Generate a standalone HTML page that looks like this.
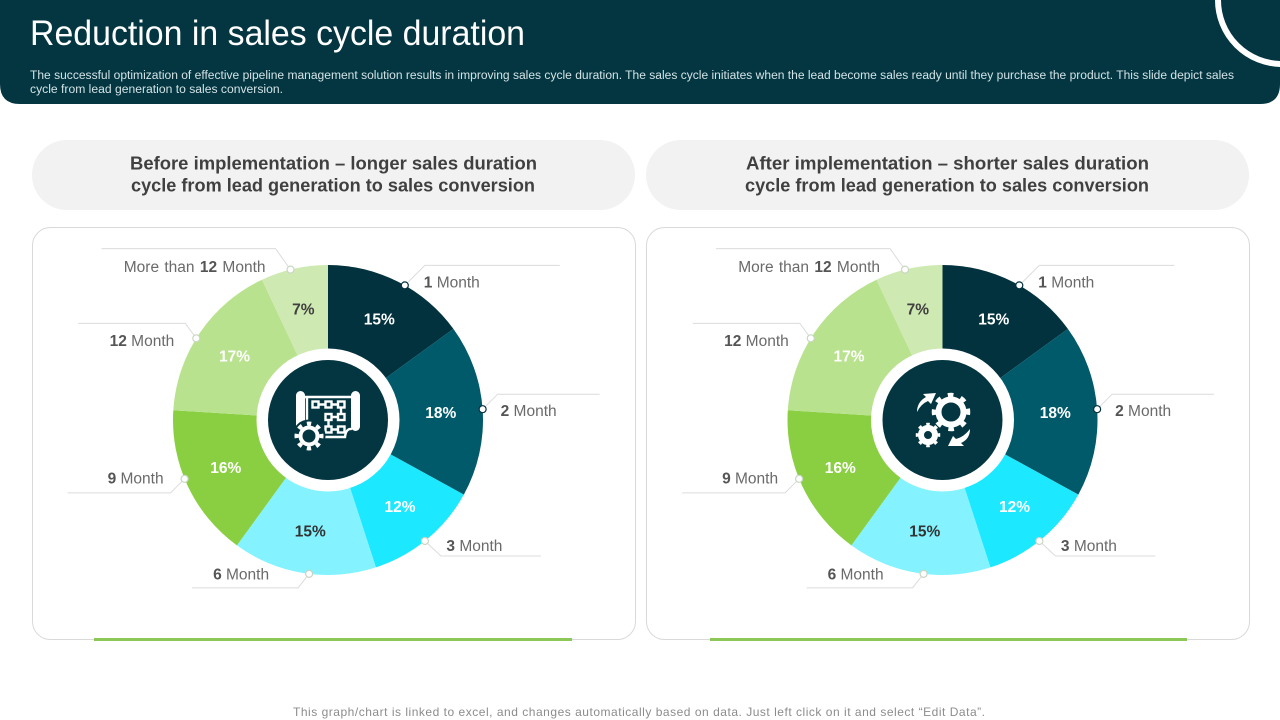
<!DOCTYPE html>
<html lang="en">
<head>
<meta charset="utf-8">
<title>Reduction in sales cycle duration</title>
<style>
html,body{margin:0;padding:0;background:#fff;width:1280px;height:720px;overflow:hidden}
svg{display:block;font-family:"Liberation Sans",sans-serif}
</style>
</head>
<body>
<svg id="slide" width="1280" height="720" viewBox="0 0 1280 720" xmlns="http://www.w3.org/2000/svg">
  <rect width="1280" height="720" fill="#ffffff"/>

  <g>
    <path d="M0 0H1280V84Q1280 104 1260 104H20Q0 104 0 84Z" fill="#033641"/>
    <circle cx="1282" cy="0" r="64" fill="none" stroke="#ffffff" stroke-width="6"/>
    <text x="30" y="45" font-size="35" fill="#ffffff" textLength="495" lengthAdjust="spacingAndGlyphs">Reduction in sales cycle duration</text>
    <text x="30" y="79" font-size="11.5" fill="#d3e3e6" textLength="1204" lengthAdjust="spacingAndGlyphs">The successful optimization of effective pipeline management solution results in improving sales cycle duration. The sales cycle initiates when the lead become sales ready until they purchase the product. This slide depict sales</text>
    <text x="30" y="93" font-size="11.5" fill="#d3e3e6" textLength="253" lengthAdjust="spacingAndGlyphs">cycle from lead generation to sales conversion.</text>
  </g>

  <g>
    <rect x="32" y="140" width="603" height="70" rx="35" fill="#f2f2f2"/>
    <text x="130" y="169.500" font-size="18" font-weight="700" fill="#404040" textLength="407" lengthAdjust="spacingAndGlyphs">Before implementation – longer sales duration</text>
    <text x="131" y="191.500" font-size="18" font-weight="700" fill="#404040" textLength="404" lengthAdjust="spacingAndGlyphs">cycle from lead generation to sales conversion</text>
  </g>
  <g>
    <rect x="646" y="140" width="603" height="70" rx="35" fill="#f2f2f2"/>
    <text x="746" y="169.500" font-size="18" font-weight="700" fill="#404040" textLength="403" lengthAdjust="spacingAndGlyphs">After implementation – shorter sales duration</text>
    <text x="745" y="191.500" font-size="18" font-weight="700" fill="#404040" textLength="404" lengthAdjust="spacingAndGlyphs">cycle from lead generation to sales conversion</text>
  </g>

  <rect x="32.500" y="227.500" width="603" height="412" rx="18" fill="#ffffff" stroke="#d9d9d9"/>
  <rect x="646.500" y="227.500" width="603" height="412" rx="18" fill="#ffffff" stroke="#d9d9d9"/>
  <rect x="94" y="638" width="478" height="3" fill="#8bc858"/>
  <rect x="710" y="638" width="477" height="3" fill="#8bc858"/>

  <g id="before-chart"></g>
  <g id="after-chart"></g>

  <g fill="#ffffff">
    <rect x="296" y="391" width="9" height="38" rx="4.500"/>
    <rect x="351" y="391" width="9" height="40" rx="4.500"/>
    <path d="M304 397H352M307 397V428M352 429Q346 428 345 437H322" fill="none" stroke="#ffffff" stroke-width="2.400"/>
    <g fill="none" stroke="#ffffff" stroke-width="2.400">
      <rect x="312.500" y="401.500" width="6" height="6"/><rect x="325.500" y="401.500" width="6" height="6"/><rect x="338" y="401.500" width="6.500" height="6"/>
      <rect x="325.500" y="414" width="6" height="6"/><rect x="338" y="414" width="6.500" height="6"/>
      <rect x="325.500" y="426.500" width="6" height="6"/><rect x="338" y="426.500" width="6.500" height="6"/>
      <path d="M318.500 404.500H325.500M331.500 404.500H338M341 407.500V414M331.500 417H338M328.500 420V426.500M331.500 429.500H338"/>
    </g>
    <circle cx="309" cy="436" r="16.500" fill="#033641"/>
    <circle cx="309" cy="436" r="8.500" fill="none" stroke="#ffffff" stroke-width="4"/>
    <circle cx="309" cy="436" r="12.500" fill="none" stroke="#ffffff" stroke-width="4" pathLength="8" stroke-dasharray="0.45 0.55" stroke-dashoffset="0.22"/>
  </g>

  <g fill="#ffffff">
    <circle cx="951" cy="412" r="12.500" fill="none" stroke="#ffffff" stroke-width="6"/>
    <circle cx="951" cy="412" r="17" fill="none" stroke="#ffffff" stroke-width="4.500" pathLength="8" stroke-dasharray="0.42 0.58" stroke-dashoffset="0.21"/>
    <circle cx="928" cy="435" r="7" fill="none" stroke="#ffffff" stroke-width="6"/>
    <circle cx="928" cy="435" r="10.500" fill="none" stroke="#ffffff" stroke-width="3.500" pathLength="8" stroke-dasharray="0.42 0.58" stroke-dashoffset="0.21"/>
    <path d="M917 412Q917 402 926 397L923 394L936 393L931 404L928 401Q921 404 917 412Z"/>
    <path d="M970 429Q970 439 961 443L964 446L948 446L953 436L956 439Q964 437 970 429Z"/>
  </g>

  <text x="293" y="716" font-size="12" fill="#8c8c8c" textLength="692" lengthAdjust="spacing">This graph/chart is linked to excel, and changes automatically based on data. Just left click on it and select “Edit Data”.</text>
</svg>

<script>
const categories = ['1 Month', '2 Month', '3 Month', '6 Month', '9 Month', '12 Month', 'More than 12 Month'];
const beforeValues = [15, 18, 12, 15, 16, 17, 7];
const afterValues = [15, 18, 12, 15, 16, 17, 7];
const sliceColors = ['#03323f', '#005a6a', '#1ce8ff', '#84f3ff', '#8acf41', '#b9e28e', '#cfe9b2'];
const percentColors = ['#ffffff', '#ffffff', '#ffffff', '#333333', '#ffffff', '#ffffff', '#404040'];

const SVG_NS = 'http://www.w3.org/2000/svg';

function make(tag, attrs) {
  const node = document.createElementNS(SVG_NS, tag);
  for (const key in attrs) node.setAttribute(key, attrs[key]);
  return node;
}

function drawDonut(host, prefix, values, cx, cy) {
  const outerRadius = 155;
  const percentRadius = 113;
  const total = values.reduce((a, b) => a + b, 0);
  const angleScale = v => v / total * Math.PI * 2;
  const pointAt = (angle, radius) => [cx + Math.sin(angle) * radius, cy - Math.cos(angle) * radius];

  /* leader layout per label: dot angle nudge (deg), elbow dx, elbow dy, run end dx, text dx, baseline dy */
  const leaderLayout = [
    [2.7, 20, -20, 155, 19, 2],
    [-0.4, 15, -15, 117, 18, 7],
    [0.9, 16, 15, 116, 21.5, 10],
    [-2, -11, 14, -117, -40, 5.5],
    [2.9, -14, 14, -117, -21, 4.5],
    [-2.4, -11, -15, -118, -22, 7.5],
    [-1.4, -15, -21, -189, -25, 2.5]
  ];

  let start = 0;
  values.forEach((value, i) => {
    const sweep = angleScale(value);
    const end = start + sweep;
    const p0 = pointAt(start, outerRadius);
    const p1 = pointAt(end, outerRadius);
    const large = sweep > Math.PI ? 1 : 0;
    const slice = make('path', {
      d: `M${cx} ${cy}L${p0[0]} ${p0[1]}A${outerRadius} ${outerRadius} 0 ${large} 1 ${p1[0]} ${p1[1]}Z`,
      fill: sliceColors[i]
    });
    
    
    host.appendChild(slice);
    start = end;
  });

  const hole = make('circle', { cx: cx, cy: cy, r: 71.5, fill: '#ffffff' });
  
  
  host.appendChild(hole);

  const hub = make('circle', { cx: cx, cy: cy, r: 60, fill: '#033641' });
  
  
  host.appendChild(hub);

  start = 0;
  values.forEach((value, i) => {
    const sweep = angleScale(value);
    const mid = start + sweep / 2;
    const layout = leaderLayout[i];

    const pct = pointAt(mid, percentRadius);
    const pctText = make('text', {
      x: pct[0], y: pct[1] + 5, 'text-anchor': 'middle',
      'font-size': 15.5, 'font-weight': 700, fill: percentColors[i]
    });
    pctText.textContent = value + '%';
    
    
    host.appendChild(pctText);

    const dot = pointAt(mid + layout[0] * Math.PI / 180, outerRadius);
    const leader = make('polyline', {
      points: `${dot[0]},${dot[1]} ${dot[0] + layout[1]},${dot[1] + layout[2]} ${dot[0] + layout[3]},${dot[1] + layout[2]}`,
      fill: 'none', stroke: '#dcdcdc', 'stroke-width': 1
    });
    
    
    host.appendChild(leader);

    const marker = make('circle', {
      cx: dot[0], cy: dot[1], r: 3.5, fill: '#ffffff', stroke: i < 2 ? '#03323f' : '#c9d6c4', 'stroke-width': 1.2
    });
    
    
    host.appendChild(marker);

    const label = make('text', {
      x: dot[0] + layout[4], y: dot[1] + layout[5],
      'text-anchor': layout[4] > 0 ? 'start' : 'end',
      'font-size': 15.5, fill: '#6a6a6a',
      'word-spacing': i === 6 ? 1 : 0
    });
    
    
    categories[i].split(/(\d+)/).forEach(part => {
      if (!part) return;
      const span = make('tspan', /\d/.test(part) ? { 'font-weight': 700, fill: '#555555' } : {});
      span.textContent = part;
      label.appendChild(span);
    });
    host.appendChild(label);

    start += sweep;
  });
}

drawDonut(document.getElementById('before-chart'), 'before', beforeValues, 328, 420);
drawDonut(document.getElementById('after-chart'), 'after', afterValues, 942.5, 420);
</script>
</body>
</html>
